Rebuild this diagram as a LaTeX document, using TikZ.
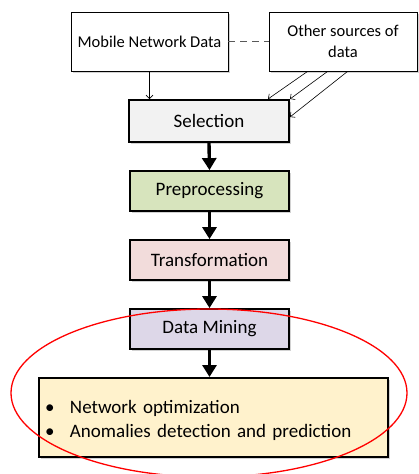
\documentclass[tikz,border=0pt]{standalone}
\usepackage{fontspec}
\setmainfont{Carlito}
\usetikzlibrary{arrows.meta,shadows,calc,shapes.geometric}
\tikzset{
  srcbox/.style={draw=black, line width=0.8pt, fill=white, minimum width=157pt, minimum height=59pt,
    inner sep=2pt, align=center, font=\fontsize{16.5}{21}\selectfont,
    drop shadow={shadow xshift=1.5pt, shadow yshift=-1.5pt, opacity=0.35}},
  stagebox/.style={draw=black, line width=1.8pt, minimum width=159pt, minimum height=40pt,
    inner sep=2pt, font=\fontsize{19}{24}\selectfont,
    drop shadow={shadow xshift=2pt, shadow yshift=-2pt, opacity=0.35}},
  flow/.style={line width=3.4pt, -{Triangle[length=12pt,width=14pt]}},
  feed/.style={line width=0.6pt, -{Straight Barb[length=3.5pt,width=7pt]}},
}
\begin{document}
\begin{tikzpicture}[x=1pt,y=-1pt]
\useasboundingbox (0,0) rectangle (418,474);
\fill[white] (0,0) rectangle (418,474);

% data sources
\node[srcbox] (mnd) at (149.5,41.5) {Mobile Network Data};
\node[srcbox, minimum width=148pt] (oth) at (343,41.5) {Other sources of\\data};

% KDD stages
\node[stagebox, fill=gray!10, minimum width=160pt, minimum height=42pt, line width=2pt] (sel) at (209,121) {Selection};
\node[stagebox, fill={rgb,255:red,215;green,228;blue,189}] (pre) at (209.5,191) {Preprocessing};
\node[stagebox, fill={rgb,255:red,242;green,220;blue,219}] (tra) at (209.5,260) {Transformation};
\node[stagebox, fill={rgb,255:red,221;green,215;blue,232}] (dm) at (209.5,329) {Data Mining};
\node[stagebox, fill={rgb,255:red,255;green,242;blue,204}, minimum width=349pt, minimum height=79pt,
      line width=2pt, text width=337pt, inner xsep=6pt, align=left] (res) at (213.5,417.5)
  {\rule{0pt}{20pt}\makebox[25pt][l]{\textbullet}Network optimization\\
   \makebox[25pt][l]{\textbullet}Anomalies detection and prediction};

% links between sources
\draw[dashed, dash pattern=on 7pt off 5pt, line width=0.8pt, gray!70!black] (mnd.east) -- (oth.west);
\draw[feed] (mnd.south) -- (mnd.south |- sel.north);

\coordinate (o1) at ($(oth.south west)+(39,0)$);
\coordinate (o2) at ($(oth.south west)+(59,0)$);
\coordinate (o3) at ($(oth.south west)+(79,0)$);
\coordinate (s1) at ($(sel.north west)+(140,0)$);
\coordinate (s3) at ($(sel.north east)+(0,18)$);
\draw[feed] (o1) -- (s1);
\draw[feed] (o2) -- (sel.north east);
\draw[feed] (o3) -- (s3);

% main flow
\draw[flow] (sel.south) -- (pre.north);
\draw[flow] (pre.south) -- (tra.north);
\draw[flow] (tra.south) -- (dm.north);
\draw[flow] (dm.south) -- (res.north -| dm.south);

% highlight
\node[draw=red, line width=1.3pt, ellipse, minimum width=396pt, minimum height=168pt, inner sep=0pt] (hl) at (209,393) {};
\end{tikzpicture}
\end{document}
